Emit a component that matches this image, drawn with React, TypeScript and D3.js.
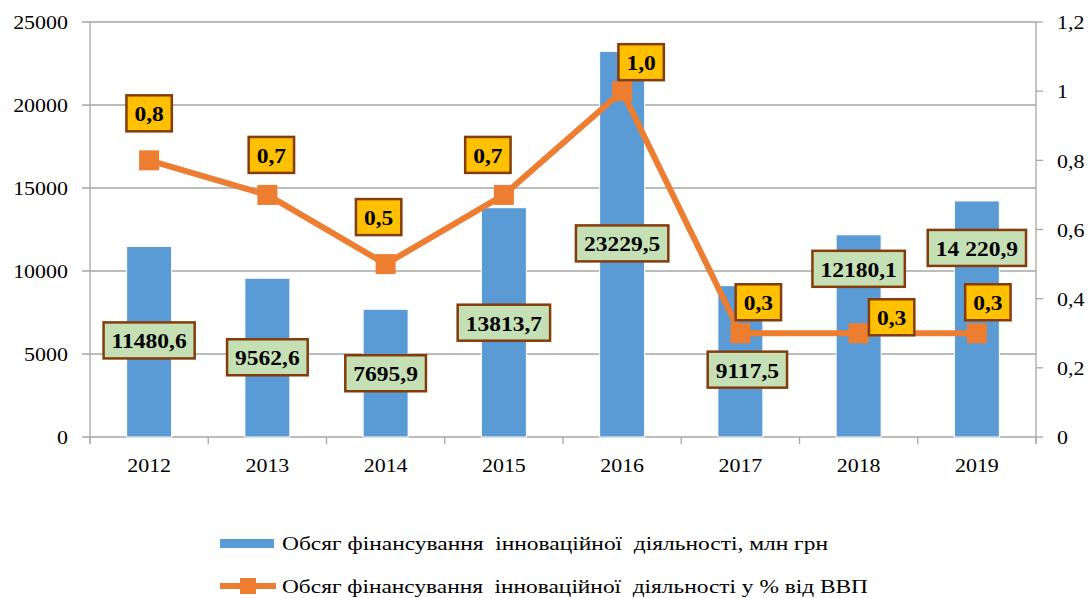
import React, { useRef, useEffect } from 'react';
import * as d3 from 'd3';

const years = ['2012', '2013', '2014', '2015', '2016', '2017', '2018', '2019'];
const funding = [11480.6, 9562.6, 7695.9, 13813.7, 23229.5, 9117.5, 12180.1, 14220.9];
const fundingLabels = ['11480,6', '9562,6', '7695,9', '13813,7', '23229,5', '9117,5', '12180,1', '14 220,9'];
const gdpShare = [0.8, 0.7, 0.5, 0.7, 1.0, 0.3, 0.3, 0.3];
const gdpLabels = ['0,8', '0,7', '0,5', '0,7', '1,0', '0,3', '0,3', '0,3'];
const leftTicks = [0, 5000, 10000, 15000, 20000, 25000];
const rightTicks = [0, 0.2, 0.4, 0.6, 0.8, 1.0, 1.2];
const rightTickLabels = ['0', '0,2', '0,4', '0,6', '0,8', '1', '1,2'];
const legendLabels = [
  'Обсяг фінансування  інноваційної  діяльності, млн грн',
  'Обсяг фінансування  інноваційної  діяльності у % від ВВП',
];

// manual label placement (pixel offsets)
const barLabelDx = [0, 0, 0, 0, 0, 7, 0, 0];
const barLabelDy = [94, 79, 64, 115, 192, 84, 34, 47];
const lineLabelDx = [0, 4, -7, -16, 19, 18, 33, 11];
const lineLabelDy = [-47, -40, -47, -40, -29, -31, -16, -31];

const W = 1091;
const H = 598;
const FONT = '"Liberation Serif", "Times New Roman", serif';

export default function App() {
  const ref = useRef<SVGSVGElement | null>(null);

  useEffect(() => {
    const svg = d3.select(ref.current);
    svg.selectAll('*').remove();

    const x0 = 90, x1 = 1036, yTop = 22, yBot = 437;
    const x = d3.scaleBand<string>().domain(years).range([x0, x1]).paddingInner(0).paddingOuter(0);
    const yL = d3.scaleLinear().domain([0, 25000]).range([yBot, yTop]);
    const yR = d3.scaleLinear().domain([0, 1.2]).range([yBot, yTop]);
    const barW = 45;
    const cx = (d: string) => (x(d) as number) + x.bandwidth() / 2;

    const grid = '#A6A6A6';

    // gridlines
    svg.append('g').selectAll('line').data(leftTicks).join('line')
      .attr('x1', x0 - 8).attr('x2', x1)
      .attr('y1', (d) => yL(d)).attr('y2', (d) => yL(d))
      .attr('stroke', grid).attr('stroke-width', 1.3);

    // left axis line
    svg.append('line').attr('x1', x0).attr('x2', x0).attr('y1', yTop).attr('y2', yBot + 6)
      .attr('stroke', grid).attr('stroke-width', 1.3);
    // right axis line + ticks
    svg.append('line').attr('x1', x1).attr('x2', x1).attr('y1', yTop).attr('y2', yBot + 6)
      .attr('stroke', grid).attr('stroke-width', 1.3);
    svg.append('g').selectAll('line').data(rightTicks).join('line')
      .attr('x1', x1).attr('x2', x1 + 7)
      .attr('y1', (d) => yR(d)).attr('y2', (d) => yR(d))
      .attr('stroke', grid).attr('stroke-width', 1.3);
    // x ticks
    const bounds = years.map((d) => x(d) as number).concat([x1]);
    svg.append('g').selectAll('line').data(bounds).join('line')
      .attr('x1', (d) => d).attr('x2', (d) => d)
      .attr('y1', yBot).attr('y2', yBot + 7)
      .attr('stroke', grid).attr('stroke-width', 1.3);

    // axis labels
    const axisText = (g: any, tx: number, ty: number, s: string, anchor: string) => {
      g.append('text')
        .attr('transform', `translate(${tx},${ty}) scale(1.22,1)`)
        .attr('text-anchor', anchor)
        .attr('dominant-baseline', 'central')
        .attr('font-family', FONT)
        .attr('font-size', 18)
        .attr('fill', '#000')
        .text(s);
    };
    const ax = svg.append('g');
    leftTicks.forEach((t) => axisText(ax, 68, yL(t) + 1, String(t), 'end'));
    rightTicks.forEach((t, i) => axisText(ax, 1057, yR(t) + 1, rightTickLabels[i], 'start'));
    years.forEach((yr) => axisText(ax, cx(yr), 466, yr, 'middle'));

    // bars
    svg.append('g').selectAll('rect').data(years).join('rect')
      .attr('x', (d) => cx(d) - barW / 2)
      .attr('width', barW)
      .attr('y', (_d, i) => yL(funding[i]))
      .attr('height', (_d, i) => yBot - yL(funding[i]))
      .attr('fill', '#5B9BD5')
      .attr('stroke', '#ffffff').attr('stroke-width', 1);

    // line
    const line = d3.line<number>()
      .x((_d, i) => cx(years[i]))
      .y((d) => yR(d));
    svg.append('path').attr('d', line(gdpShare) as string)
      .attr('fill', 'none').attr('stroke', '#ED7D31').attr('stroke-width', 6)
      .attr('stroke-linejoin', 'round');
    const ms = 20;
    svg.append('g').selectAll('rect').data(gdpShare).join('rect')
      .attr('x', (_d, i) => cx(years[i]) - ms / 2)
      .attr('y', (d) => yR(d) - ms / 2)
      .attr('width', ms).attr('height', ms)
      .attr('fill', '#ED7D31');

    // labels
    const label = (px: number, py: number, s: string, fill: string) => {
      const g = svg.append('g').attr('transform', `translate(${px},${py})`);
      const rect = g.append('rect');
      const t = g.append('text')
        .attr('transform', 'scale(1.12,1)')
        .attr('text-anchor', 'middle')
        .attr('dominant-baseline', 'central')
        .attr('y', 1)
        .attr('font-family', FONT)
        .attr('font-weight', 'bold')
        .attr('font-size', 21)
        .attr('fill', '#000')
        .style('white-space', 'pre')
        .text(s);
      const bb = (t.node() as SVGTextElement).getBBox();
      const w = bb.width * 1.12 + 16;
      const h = 36;
      rect.attr('x', -w / 2).attr('y', -h / 2).attr('width', w).attr('height', h)
        .attr('fill', fill).attr('stroke', '#843C0C').attr('stroke-width', 2.5);
    };

    years.forEach((yr, i) => {
      label(cx(yr) + barLabelDx[i], yL(funding[i]) + barLabelDy[i], fundingLabels[i], '#C5E0B4');
    });
    years.forEach((yr, i) => {
      label(cx(yr) + lineLabelDx[i], yR(gdpShare[i]) + lineLabelDy[i], gdpLabels[i], '#FFC000');
    });

    // legend
    const lg = svg.append('g');
    lg.append('rect').attr('x', 220).attr('y', 539).attr('width', 54).attr('height', 9).attr('fill', '#5B9BD5');
    lg.append('line').attr('x1', 220).attr('x2', 276).attr('y1', 586).attr('y2', 586)
      .attr('stroke', '#ED7D31').attr('stroke-width', 6);
    lg.append('rect').attr('x', 240).attr('y', 578).attr('width', 16).attr('height', 16).attr('fill', '#ED7D31');
    const lens = [546, 586];
    [543, 586].forEach((yy, i) => {
      lg.append('text')
        .attr('x', 282).attr('y', yy)
        .attr('dominant-baseline', 'central')
        .attr('font-family', FONT)
        .attr('font-size', 19)
        .attr('textLength', lens[i])
        .attr('lengthAdjust', 'spacingAndGlyphs')
        .style('white-space', 'pre')
        .attr('fill', '#000')
        .text(legendLabels[i]);
    });
  }, []);

  return (
    <svg
      ref={ref}
      width={W}
      height={H}
      style={{ position: 'absolute', left: 0, top: 0, background: '#fff' }}
    />
  );
}
